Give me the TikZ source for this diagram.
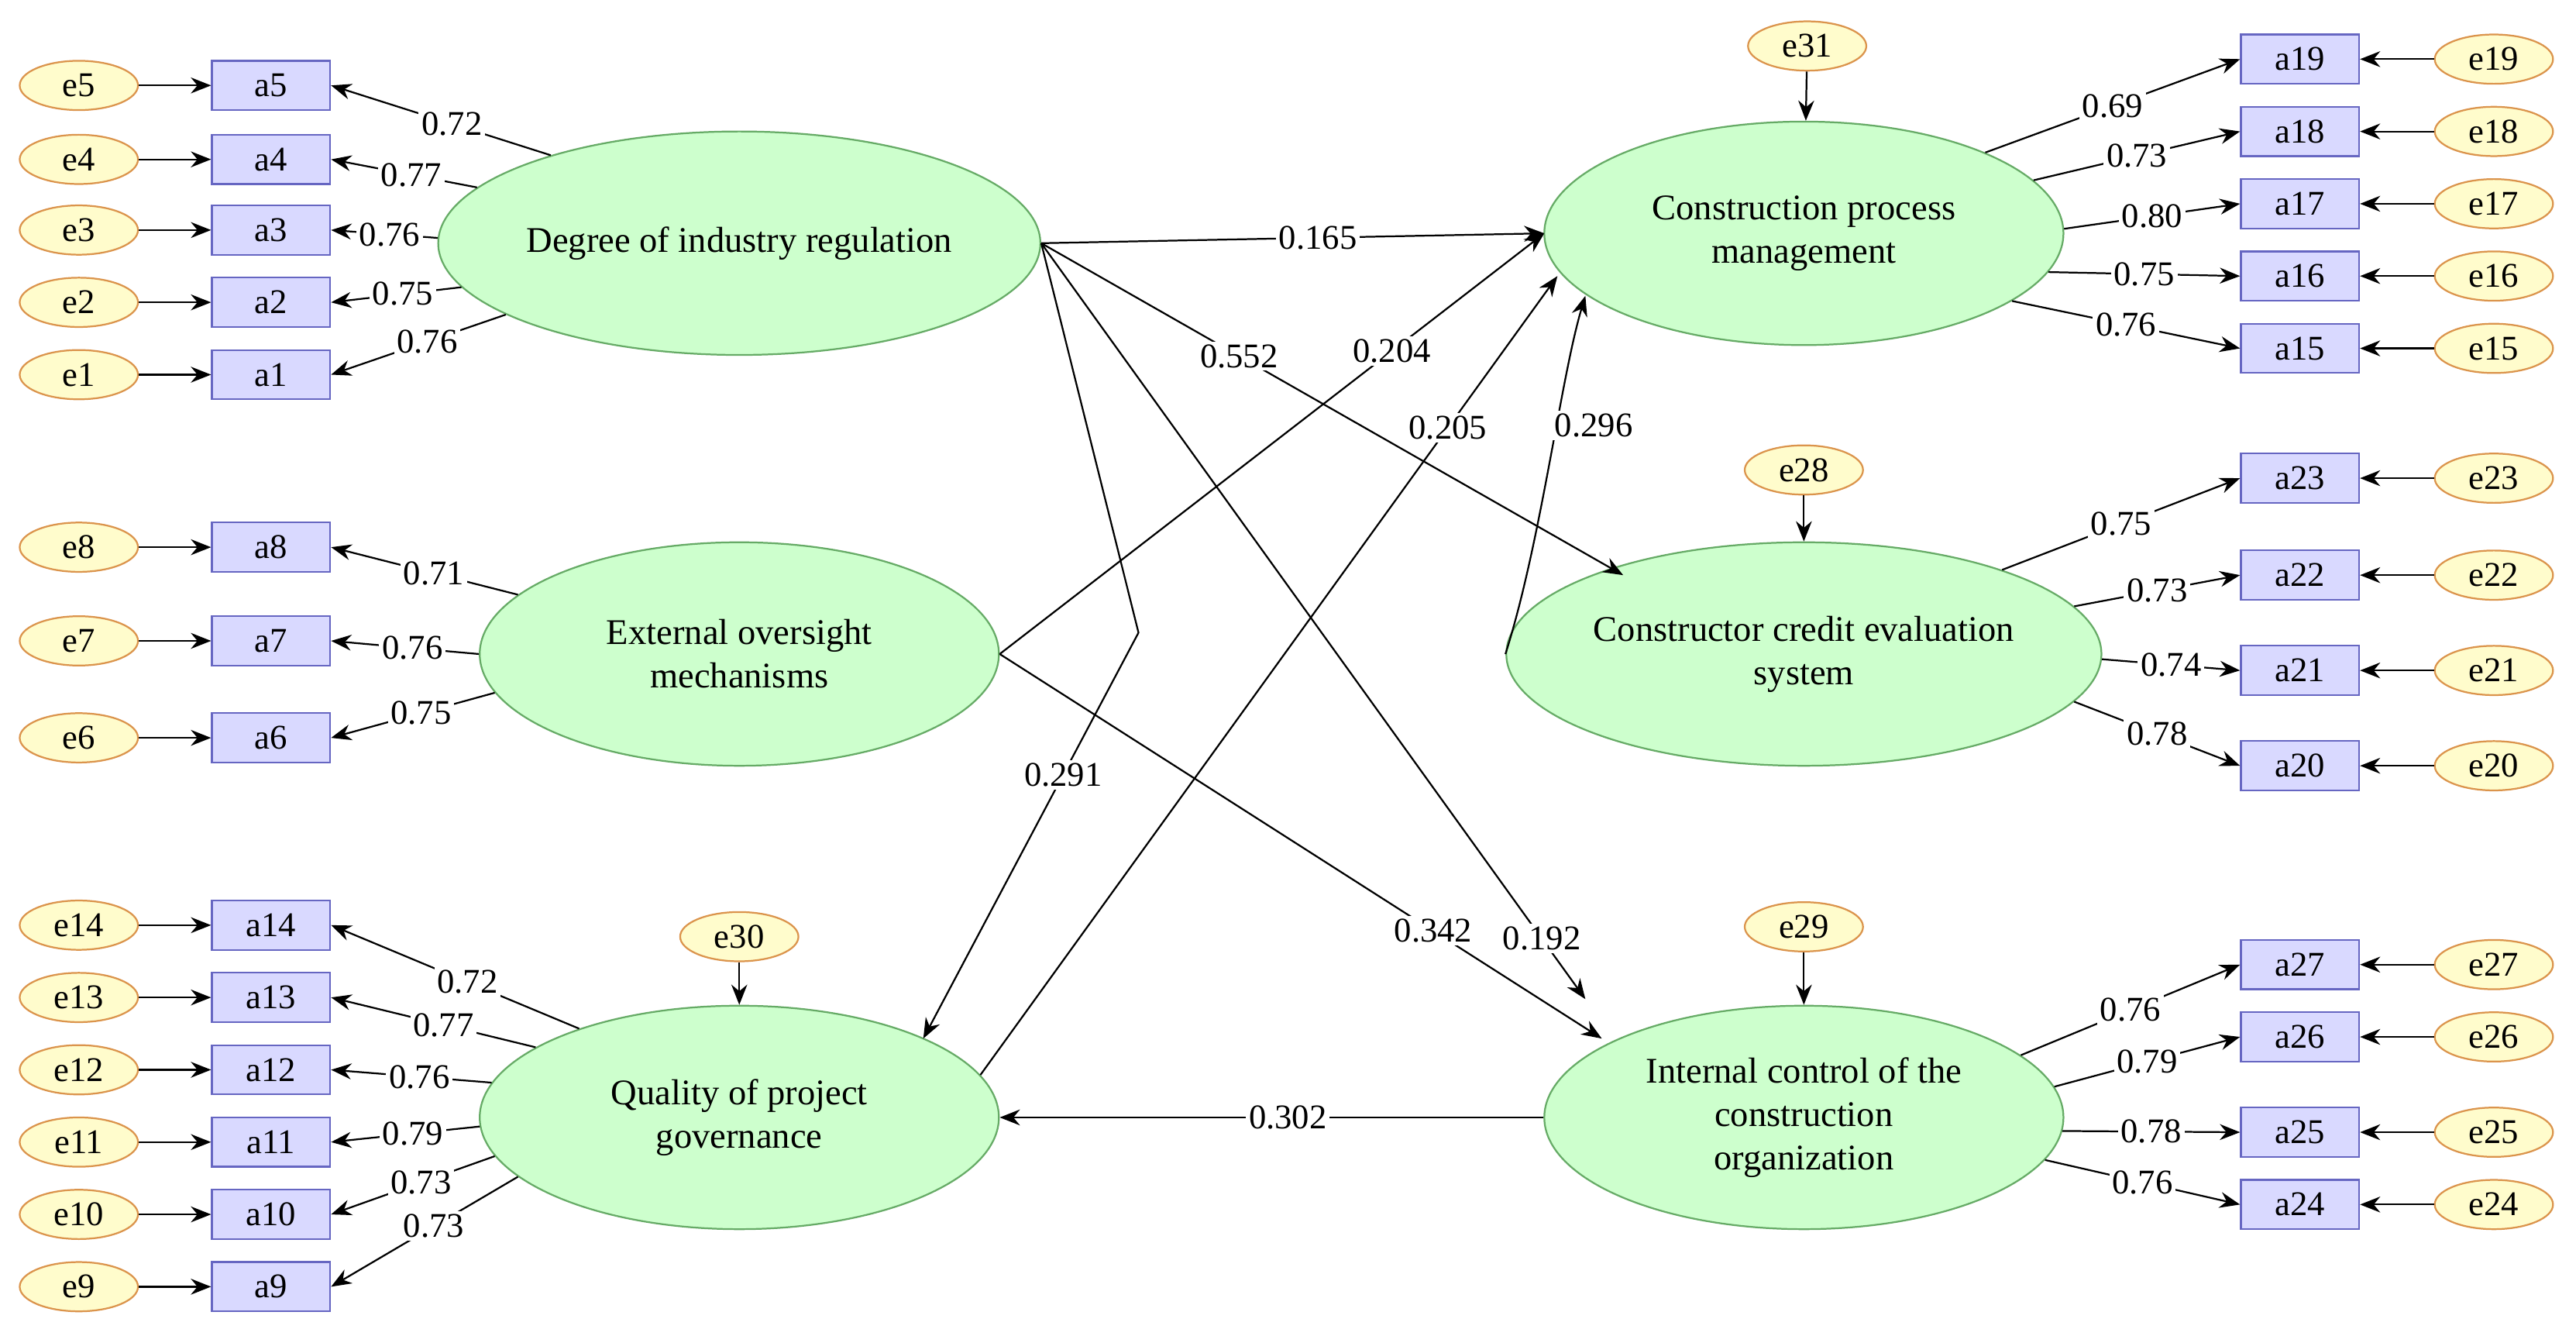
\documentclass[tikz,border=0pt]{standalone}
\usepackage{fontspec}
\setmainfont{Liberation Serif}
\usetikzlibrary{shapes.geometric,arrows.meta}
\begin{document}
\begin{tikzpicture}[x=0.02cm,y=-0.02cm,
 lat/.style={ellipse,draw=green!45!black!60,fill=green!30!white!65,line width=0.6pt,minimum width=316*0.02cm,minimum height=136*0.02cm,align=center,font=\fontsize{12.5}{15}\selectfont,inner sep=0pt},
 obs/.style={rectangle,draw=blue!60!black!60,fill=blue!15!white,line width=0.6pt,minimum width=72*0.02cm,minimum height=30*0.02cm,inner sep=0pt,font=\fontsize{12}{14}\selectfont},
 err/.style={ellipse,draw=orange!80!black!70,fill=yellow!20!white,line width=0.6pt,minimum width=72*0.02cm,minimum height=30*0.02cm,inner sep=0pt,font=\fontsize{12}{14}\selectfont},
 arr/.style={-{Stealth[length=7pt,width=5.5pt]},line width=0.6pt},
 lb/.style={fill=white,inner sep=1pt,font=\fontsize{12}{14}\selectfont}]
\useasboundingbox (0,0) rectangle (1568,813);
% latent
\node[lat] (DIR) at (450,148) {Degree of industry regulation};
\node[lat] (EOM) at (450,398) {External oversight\\mechanisms};
\node[lat] (QPG) at (450,680) {Quality of project\\governance};
\node[lat] (CPM) at (1098,142) {Construction process\\management};
\node[lat] (CCE) at (1098,398) {Constructor credit evaluation\\system};
\node[lat] (ICO) at (1098,680) {Internal control of the\\construction\\organization};
% left indicators
\foreach \n/\y/\lat/\ang/\v in {5/52/DIR/155/0.72,4/97/DIR/168/0.77,3/140/DIR/179/0.76,2/184/DIR/189/0.75,1/228/DIR/197/0.76,
 8/333/EOM/165/0.71,7/390/EOM/180/0.76,6/449/EOM/189/0.75,
 14/563/QPG/151/0.72,13/607/QPG/161/0.77,12/651/QPG/172/0.76,11/695/QPG/182/0.79,10/739/QPG/189/0.73,9/783/QPG/195/0.73}{
 \node[obs] (a\n) at (165,\y) {a\n};
 \node[err] (e\n) at (48,\y) {e\n};
 \draw[arr] (e\n) -- (a\n);
 \draw[arr] (\lat.\ang) -- node[lb,pos=0.45]{\v} (a\n.east);
}
% right indicators
\foreach \n/\y/\lat/\ang/\v in {19/36/CPM/24/0.69,18/80/CPM/13/0.73,17/124/CPM/1/0.80,16/168/CPM/351/0.75,15/212/CPM/342/0.76,
 23/291/CCE/23/0.75,22/350/CCE/10/0.73,21/408/CCE/359/0.74,20/466/CCE/350/0.78,
 27/587/ICO/16/0.76,26/631/ICO/7/0.79,25/689/ICO/357/0.78,24/733/ICO/350/0.76}{
 \node[obs] (a\n) at (1400,\y) {a\n};
 \node[err] (e\n) at (1518,\y) {e\n};
 \draw[arr] (e\n) -- (a\n);
 \draw[arr] (\lat.\ang) -- node[lb,pos=0.5]{\v} (a\n.west);
}
% disturbances
\node[err] (e31) at (1100,28) {e31};
\node[err] (e28) at (1098,286) {e28};
\node[err] (e30) at (450,570) {e30};
\node[err] (e29) at (1098,564) {e29};
\draw[arr] (e31) -- (CPM);
\draw[arr] (e28) -- (CCE);
\draw[arr] (e30) -- (QPG);
\draw[arr] (e29) -- (ICO);
% structural
\coordinate (bend) at (693,385);
\coordinate (cpmA) at (940,142);
\coordinate (cpmB) at (948,168);
\coordinate (cpmC) at (965,180);
\coordinate (cceA) at (988,350);
\coordinate (icoA) at (965,608);
\coordinate (icoB) at (975,632);
\coordinate (qpgA) at (562,632);
\draw[arr] (DIR.east) -- node[lb,pos=0.55]{0.165} (cpmA);
\draw[arr] (DIR.east) -- node[lb,pos=0.34]{0.552} (cceA);
\draw[arr] (DIR.east) -- (bend) -- node[lb,pos=0.35]{0.291} (qpgA);
\draw[arr] (DIR.east) -- node[lb,pos=0.92]{0.192} (icoA);
\draw[arr] (EOM.east) -- node[lb,pos=0.72]{0.204} (cpmA);
\draw[arr] (EOM.east) -- node[lb,pos=0.72]{0.342} (icoB);
\draw[arr] (QPG.10) -- node[lb,pos=0.81]{0.205} (cpmB);
\draw[arr] (CCE.west) .. controls (938,330) and (950,230) .. node[lb,pos=0.6,right=-2pt]{0.296} (cpmC);
\draw[arr] (ICO.west) -- node[lb,pos=0.47]{0.302} (QPG.east);
\end{tikzpicture}
\end{document}
